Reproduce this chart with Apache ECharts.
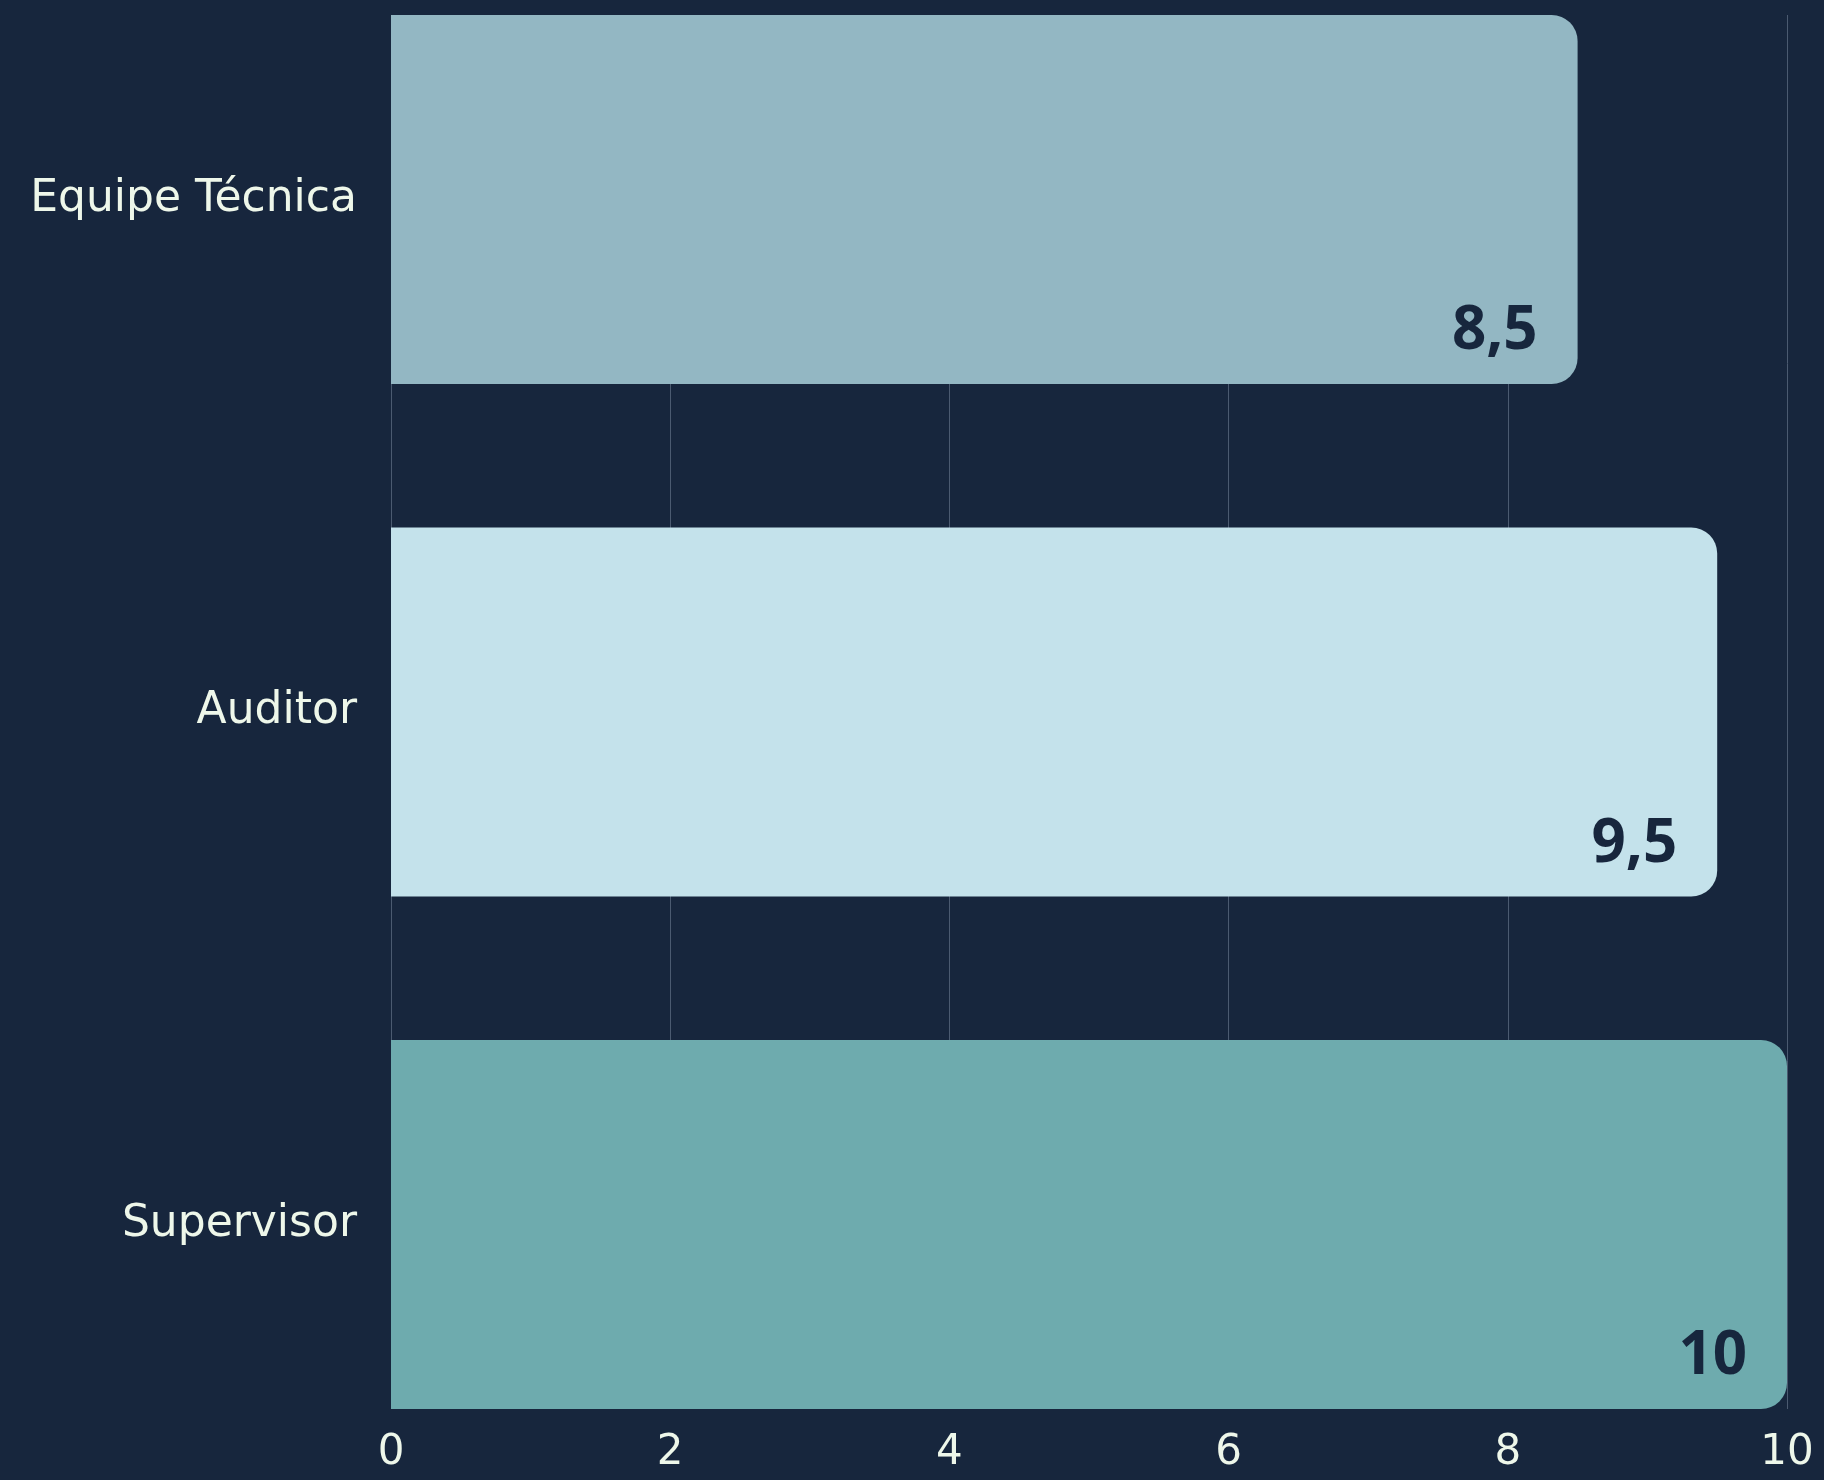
<!DOCTYPE html>
<html>
<head>
<meta charset="utf-8">
<script src="https://cdn.jsdelivr.net/npm/echarts@6/dist/echarts.min.js"></script>
<style>
  html, body { margin: 0; padding: 0; background: #17263d; }
  #chart { width: 1824px; height: 1480px; }
</style>
</head>
<body>
<div id="chart"></div>
<script>
// Avaliação por perfil (escala 0–10)
const categories = ['Equipe Técnica', 'Auditor', 'Supervisor'];
const values = [8.5, 9.5, 10];
const barColors = ['#93b7c3', '#c4e2eb', '#6eabae'];
const xTicks = { min: 0, max: 10, interval: 2 };

const BG = '#17263d';
const TEXT = '#eef7ea';
const LABEL_FONT = '"DejaVu Sans", sans-serif';
const VALUE_FONT = '"Open Sans", "Noto Sans", sans-serif';

const chart = echarts.init(document.getElementById('chart'), null, { renderer: 'canvas' });

chart.setOption({
  backgroundColor: BG,
  animation: false,
  grid: [
    // bars: each category band is taller than the visible area so the first and
    // last bars sit flush with the top and bottom of the value grid
    { left: 391, right: 37, top: -56.75, bottom: -0.75, outerBoundsMode: 'none', containLabel: false },
    // value axis with its gridlines
    { left: 391, right: 37, top: 15, bottom: 71, outerBoundsMode: 'none', containLabel: false }
  ],
  xAxis: [
    { gridIndex: 0, type: 'value', min: xTicks.min, max: xTicks.max, show: false },
    {
      gridIndex: 1, type: 'value',
      min: xTicks.min, max: xTicks.max, interval: xTicks.interval,
      axisLine: { show: false },
      axisTick: { show: false },
      splitLine: { show: true, lineStyle: { color: '#4b5a70', width: 1 } },
      axisLabel: {
        color: TEXT, fontFamily: LABEL_FONT, fontSize: 42, margin: 23,
        formatter: v => String(v).replace('.', ',')
      }
    }
  ],
  yAxis: [
    {
      gridIndex: 0, type: 'category', data: categories, inverse: true,
      axisLine: { show: false },
      axisTick: { show: false },
      splitLine: { show: false },
      axisLabel: { color: TEXT, fontFamily: LABEL_FONT, fontSize: 44, margin: 34 }
    },
    { gridIndex: 1, type: 'value', show: false, splitLine: { show: false } }
  ],
  series: [{
    type: 'bar',
    xAxisIndex: 0,
    yAxisIndex: 0,
    barWidth: 369,
    z: 3,
    data: values.map((v, i) => ({
      value: v,
      itemStyle: { color: barColors[i], borderRadius: [0, 26, 26, 0] }
    })),
    label: {
      show: true,
      position: 'insideBottomRight',
      distance: 40,
      offset: [0, 18],
      color: BG,
      fontFamily: VALUE_FONT,
      fontWeight: 'bold',
      fontSize: 60,
      formatter: p => String(p.value).replace('.', ',')
    }
  }]
});
</script>
</body>
</html>
